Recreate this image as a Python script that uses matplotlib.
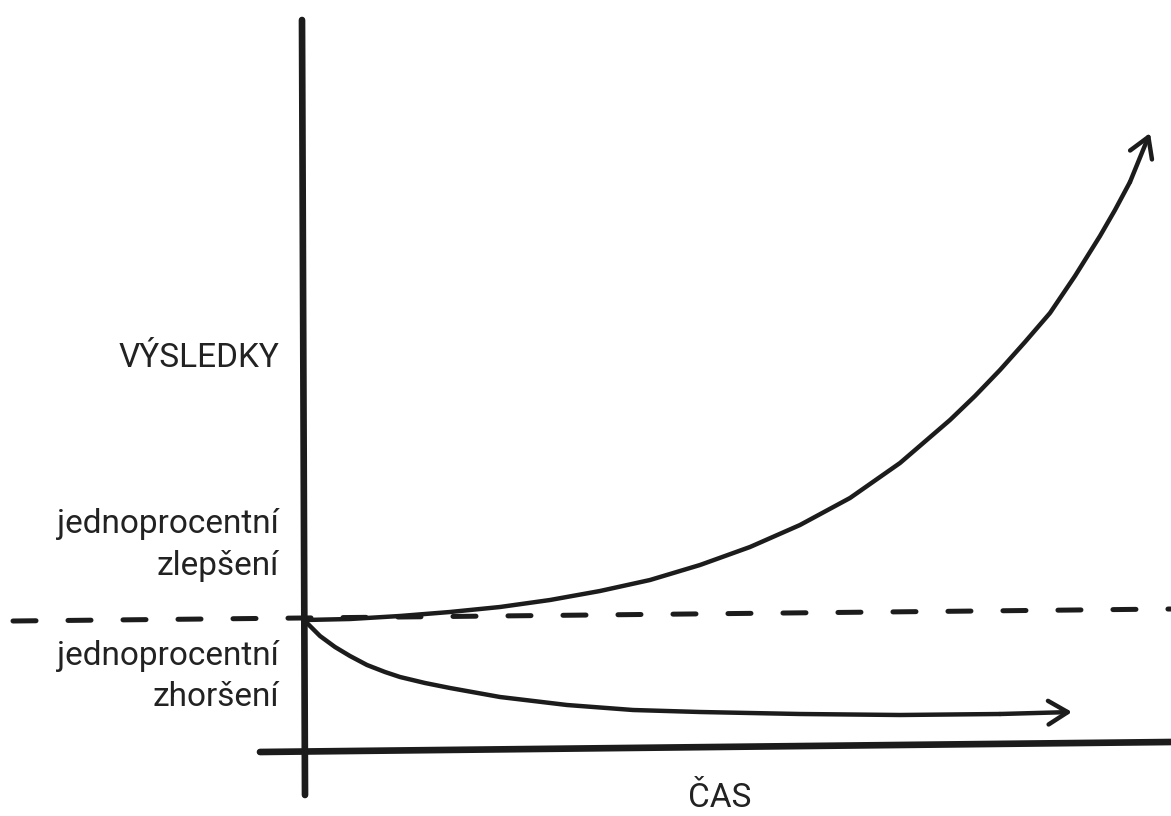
import matplotlib.pyplot as plt

# values (x = time, y = result; screen-like units, y grows downward)
up_t = [305, 350, 400, 450, 500, 550, 600, 650, 700, 750, 800, 850,
        900, 950, 975, 1000, 1025, 1050, 1075, 1100, 1115, 1130, 1150]
up_y = [620, 619, 616, 612, 607, 600, 591, 580, 565, 547, 525, 498,
        463, 420, 396, 370, 342, 313, 276, 236, 210, 182, 133]
down_t = [307, 320, 335, 350, 367, 385, 400, 425, 450, 500, 567, 633,
          700, 800, 900, 1000, 1072]
down_y = [623, 636, 647, 656, 665, 672, 677, 683, 688, 697, 705, 710,
          712, 714, 715, 714, 712]
base_t = [13, 1171]
base_y = [621, 609]
yaxis_t = [302, 305]
yaxis_y = [20, 795]
xaxis_t = [260, 1171]
xaxis_y = [752, 742]

# label text and their baselines
label_lines = ["VÝSLEDKY", "jednoprocentní", "zlepšení", "jednoprocentní", "zhoršení"]
label_base = [367, 533, 575, 665, 706]
xlabel = "ČAS"

fig = plt.figure(figsize=(11.71, 8.16), dpi=100)
ax = fig.add_axes([0, 0, 1, 1])
ax.set_xlim(0, 1171)
ax.set_ylim(816, 0)
ax.axis("off")

ink = "#1c1c1c"
ax.plot(yaxis_t, yaxis_y, color=ink, lw=4.8, solid_capstyle="round")
ax.plot(xaxis_t, xaxis_y, color=ink, lw=4.8, solid_capstyle="round")
ax.plot(base_t, base_y, color=ink, lw=3.6, dashes=(4.6, 6.4),
        dash_capstyle="round")

head = "->,head_length=1.4,head_width=0.85"
ax.plot(up_t[:-1], up_y[:-1], color=ink, lw=3.2, solid_capstyle="round",
        solid_joinstyle="round")
ax.annotate("", xy=(up_t[-1], up_y[-1]), xytext=(up_t[-2], up_y[-2]),
            arrowprops=dict(arrowstyle=head, color=ink, lw=3.2,
                            shrinkA=0, shrinkB=0, capstyle="round",
                            joinstyle="round"))
ax.plot(down_t[:-1], down_y[:-1], color=ink, lw=3.2, solid_capstyle="round",
        solid_joinstyle="round")
ax.annotate("", xy=(down_t[-1], down_y[-1]), xytext=(down_t[-2], down_y[-2]),
            arrowprops=dict(arrowstyle=head, color=ink, lw=3.2,
                            shrinkA=0, shrinkB=0, capstyle="round",
                            joinstyle="round"))

font = dict(family=["Roboto", "DejaVu Sans"], fontsize=24, color="#222222")
for txt, yb in zip(label_lines, label_base):
    ax.text(279, yb, txt, ha="right", va="baseline", **font)
ax.text(720, 807, xlabel, ha="center", va="baseline", **font)

fig.savefig("out.png", dpi=100)
